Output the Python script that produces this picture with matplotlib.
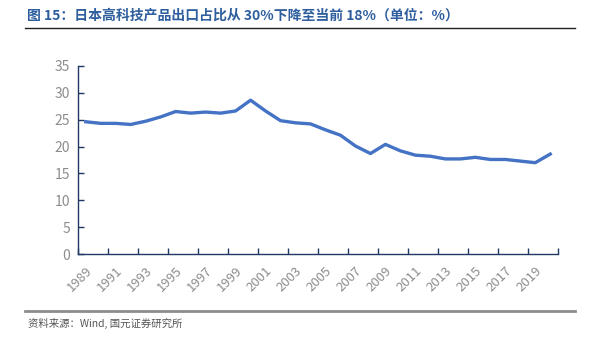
import numpy as np
import matplotlib
matplotlib.use('Agg')
import matplotlib.pyplot as plt

plt.rcParams['font.family'] = ['Noto Sans CJK SC', 'DejaVu Sans']
plt.rcParams['axes.unicode_minus'] = False

# ========== 数据 ==========
years = [str(y) for y in range(1989, 2021)]
share = [24.6, 24.3, 24.3, 24.1, 24.7, 25.5, 26.5, 26.2, 26.4, 26.2,
         26.6, 28.6, 26.6, 24.8, 24.4, 24.2, 23.1, 22.1, 20.1, 18.7,
         20.4, 19.2, 18.4, 18.2, 17.7, 17.7, 18.0, 17.6, 17.6, 17.3,
         17.0, 18.6]
y_ticks = [0, 5, 10, 15, 20, 25, 30, 35]

title = '图 15：日本高科技产品出口占比从 30%下降至当前 18%（单位：%）'
source = '资料来源：Wind, 国元证券研究所'

fig = plt.figure(figsize=(5.93, 3.37), dpi=100)
ax = fig.add_axes([0.132, 0.2454, 0.8085, 0.5596])

x = np.arange(len(years))
ax.plot(x, share, color='#4472C4', linewidth=2.4, solid_joinstyle='round')

ax.set_xlim(-0.5, len(years) - 0.5)
ax.set_ylim(0, 35)
ax.set_yticks(y_ticks)
ax.set_yticklabels([str(v) for v in y_ticks], color='#8C8C8C', fontsize=10)

# 刻度线在类别边界，每两年一个
ax.set_xticks(np.arange(-0.5, len(years), 2))
ax.set_xticklabels([])
ax.set_xticks(x[::2], minor=True)
ax.set_xticklabels(years[::2], minor=True, rotation=45, ha='right',
                   rotation_mode='anchor', color='#8C8C8C', fontsize=9.5)
ax.tick_params(axis='x', which='major', direction='in', length=4,
               color='#1F3864', width=1)
ax.tick_params(axis='x', which='minor', length=0, pad=7)
ax.tick_params(axis='y', direction='in', length=4, color='#1F3864',
               width=1, pad=6)

for side in ['top', 'right']:
    ax.spines[side].set_visible(False)
for side in ['left', 'bottom']:
    ax.spines[side].set_color('#1F3864')
    ax.spines[side].set_linewidth(1)

# 标题与分隔线
fig.text(0.045, 0.955, title, fontsize=10, fontweight='bold',
         color='#2E5E9E', va='center', ha='left')
fig.add_artist(plt.Line2D([0.043, 0.97], [0.916, 0.916], color='#222222',
                          linewidth=1, transform=fig.transFigure))
fig.add_artist(plt.Line2D([0.043, 0.97], [0.077, 0.077], color='#8C8C8C',
                          linewidth=2, transform=fig.transFigure))
fig.text(0.047, 0.04, source, fontsize=7.5, color='#555555',
         va='center', ha='left')

fig.savefig('out.png', dpi=100)
